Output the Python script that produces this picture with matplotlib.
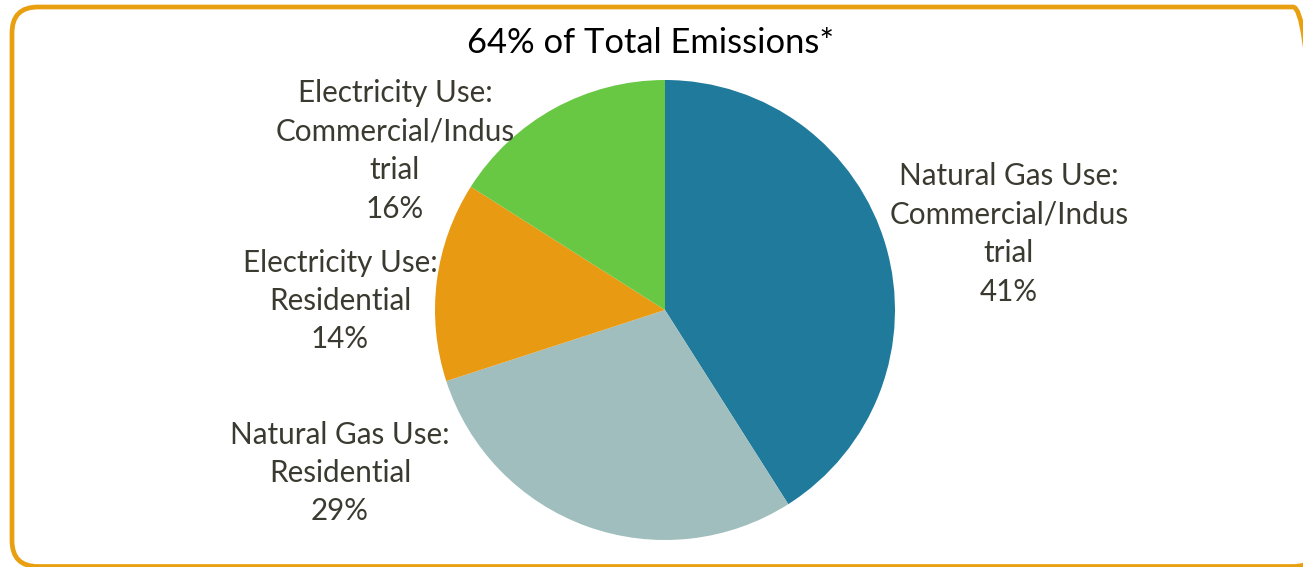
import matplotlib.pyplot as plt
from matplotlib.patches import FancyBboxPatch

# slices, clockwise from 12 o'clock
labels = ['Natural Gas Use:\nCommercial/Indus\ntrial\n41%',
          'Natural Gas Use:\nResidential\n29%',
          'Electricity Use:\nResidential\n14%',
          'Electricity Use:\nCommercial/Indus\ntrial\n16%']
values = [41, 29, 14, 16]
colors = ['#1F7A9B', '#9FBEBD', '#E89A12', '#69C843']
title = '64% of Total Emissions*'

W, H = 1303, 567
fig = plt.figure(figsize=(W / 100, H / 100), dpi=100)
ax = fig.add_axes([0, 0, 1, 1])

# outer rounded frame (runs off the right edge like the original)
frame = FancyBboxPatch((12, 0.5), 1307, H - 7.5,
                       boxstyle='round,pad=0,rounding_size=26',
                       fill=False, ec='#E8A010', lw=3.4, clip_on=False)
ax.add_patch(frame)

ax.pie(values, colors=colors, startangle=90, counterclock=False,
       center=(665, H - 310), radius=230, frame=True,
       wedgeprops=dict(linewidth=0))
ax.set_xlim(0, W)
ax.set_ylim(0, H)
ax.set_aspect('auto')
ax.axis('off')

# label positions picked to match the original layout
label_xy = [(1009, 234), (340, 473), (340, 301), (395, 151)]
for lab, (x, y) in zip(labels, label_xy):
    ax.text(x, H - y, lab, ha='center', va='center', fontsize=21.3,
            family='Lato', color='#3A3A30', linespacing=1.45)

ax.text(651, H - 43, title, ha='center', va='center', fontsize=24.8,
        family='Lato', color='black')

fig.savefig('out.png', dpi=100)
